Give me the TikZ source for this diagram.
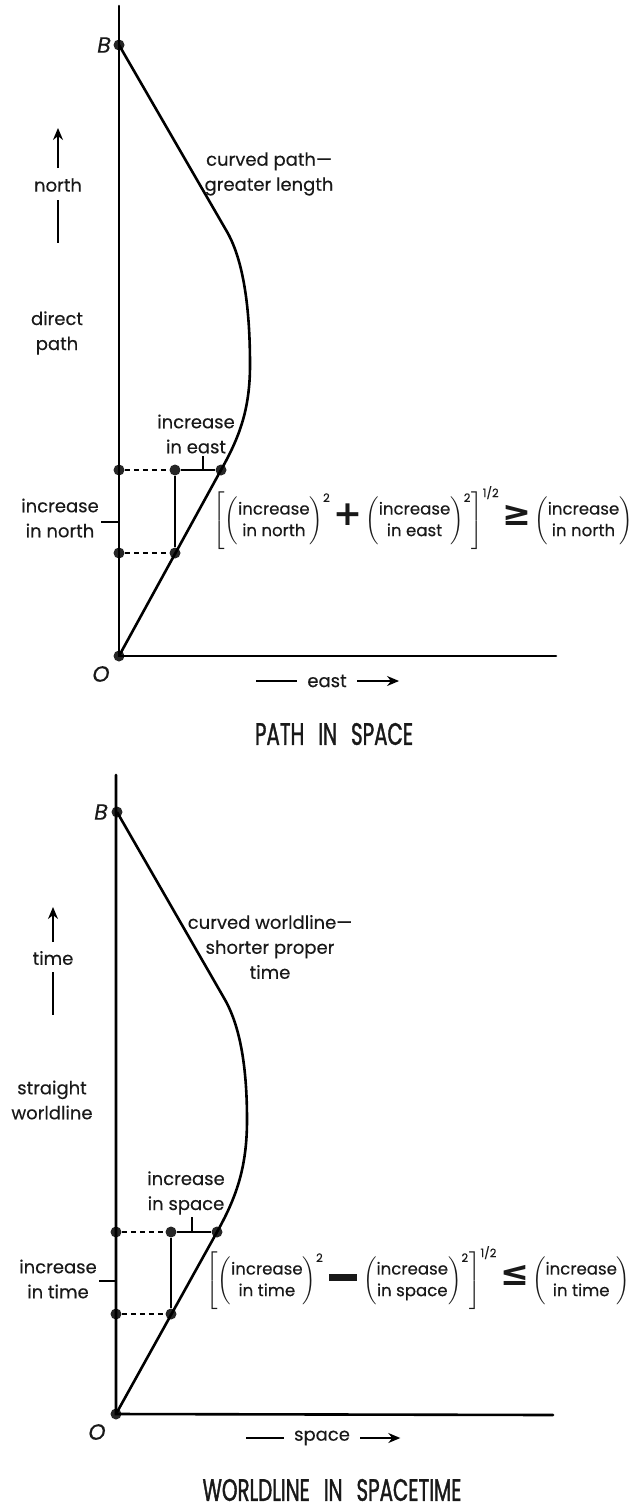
\documentclass[tikz,border=0pt]{standalone}
\usepackage{fontspec}
\usepackage{amsmath}
\setmainfont{Poppins}[FakeBold=0.35]
\newfontfamily\symfont{DejaVu Sans}
\newfontfamily\titlefont[FakeStretch=0.64,FakeBold=1.2]{Poppins}
\usetikzlibrary{arrows.meta,positioning}
\newcommand{\incr}[2]{\begin{tabular}{@{}c@{}}#1\\#2\end{tabular}}
\tikzset{
  axis/.style={line width=1.3pt, line cap=round},
  wline/.style={line width=1.3pt, line join=round},
  guide/.style={line width=0.6pt, dash pattern=on 2.5pt off 2pt},
  thinln/.style={line width=0.55pt},
  dot/.style={circle, fill=black!85, inner sep=0pt, minimum size=5.5pt},
  lbl/.style={align=center, inner sep=1pt, text=black!90, font=\fontsize{9}{12.5}\selectfont},
  ptlbl/.style={inner sep=1pt, text=black!90, font=\fontsize{11}{12}\selectfont\itshape},
  eqn/.style={anchor=west, inner sep=0pt, text=black!90, font=\fontsize{8.3}{10.8}\selectfont},
  ttl/.style={text=black!90, font=\titlefont\fontsize{15.5}{16}\selectfont},
  dirarr/.style={-{Stealth[length=6pt,width=5pt]}, line width=0.8pt},
  dirln/.style={line width=0.8pt},
}

\begin{document}
\begin{tikzpicture}[x=0.5pt,y=-0.5pt]
\useasboundingbox (0,0) rectangle (639,1509);

% path in space
\node[dot] (B1) at (119,45) {};
\node[dot] (O1) at (119,656) {};
\node[dot] (a1) at (119,470) {};
\node[dot] (b1) at (175,470) {};
\node[dot] (c1) at (221,470) {};
\node[dot] (d1) at (119,553) {};
\node[dot] (e1) at (175,553) {};
\coordinate (top1) at (119,6);
\coordinate (end1) at (556,656);
\draw[axis] (top1) -- (O1.center) -- (end1);
\draw[wline] (B1.center) -- (226,230) .. controls (244,260) and (250,310) .. (250,365)
  .. controls (250,410) and (239,438) .. (c1.center) -- (O1.center);
\draw[guide] (a1) -- (b1);
\draw[guide] (d1) -- (e1);
\draw[thinln] (b1) -- (c1);
\draw[thinln] (b1) -- (e1);

\node[ptlbl] (B1l) at (104,45) {B};
\node[ptlbl] (O1l) at (101,674) {O};
\node[lbl] (north) at (58,185) {north};
\draw[dirarr] ([yshift=8.5pt]north.center) -- ++(0,-40);
\draw[dirln] ([yshift=-7.5pt]north.center) -- ++(0,43);
\node[lbl] (direct) at (57,333) {direct\\path};
\node[lbl] (curved1) at (269,174) {curved path---\\greater length};
\node[lbl] (incE) at (196,434) {increase\\in east};
\coordinate (tk1) at (203,470);
\draw[thinln] (tk1) -- (tk1 |- incE.south);
\node[lbl] (incN) at (60,518) {increase\\in north};
\draw[thinln] ([yshift=-2pt]incN.east) -- ([yshift=-2pt]incN.east -| a1);
\node[lbl] (east) at (327,681) {east};
\draw[dirln] ([xshift=-4pt]east.west) -- ++(-41,0);
\draw[dirarr] ([xshift=4pt]east.east) -- ++(42,0);
\node[ttl] (title1) at (334,734) {PATH\hspace{0.45em}IN\hspace{0.45em}SPACE};

\node[eqn] (eq1) at (213,518) {$\left[\left(\incr{increase}{in north}\right)^{\text{2}}
  \text{\symfont\bfseries\LARGE +}
  \left(\incr{increase}{in east}\right)^{\text{2}}\right]^{\text{1/2}}
  \text{\symfont\bfseries\LARGE ≥}
  \left(\incr{increase}{in north}\right)$};

% worldline in spacetime
\node[dot] (B2) at (117,812) {};
\node[dot] (O2) at (116,1414) {};
\node[dot] (a2) at (116,1232) {};
\node[dot] (b2) at (171,1232) {};
\node[dot] (c2) at (217,1232) {};
\node[dot] (d2) at (116,1314) {};
\node[dot] (e2) at (171,1314) {};
\coordinate (top2) at (116,775);
\coordinate (end2) at (553,1415);
\draw[axis] (top2) -- (O2.center) -- (end2);
\draw[wline] (B2.center) -- (224,998) .. controls (241,1027) and (247,1070) .. (247,1120)
  .. controls (247,1168) and (236,1198) .. (c2.center) -- (O2.center);
\draw[guide] (a2) -- (b2);
\draw[guide] (d2) -- (e2);
\draw[thinln] (b2) -- (c2);
\draw[thinln] (b2) -- (e2);

\node[ptlbl] (B2l) at (101,812) {B};
\node[ptlbl] (O2l) at (97,1432) {O};
\node[lbl] (time) at (53,958) {time};
\draw[dirarr] ([yshift=8pt]time.center) -- ++(0,-35);
\draw[dirln] ([yshift=-7pt]time.center) -- ++(0,43);
\node[lbl] (straight) at (52,1100) {straight\\worldline};
\node[lbl] (curved2) at (270,947) {curved worldline---\\shorter proper\\time};
\node[lbl] (incS) at (186,1193) {increase\\in space};
\coordinate (tk2) at (192,1232);
\draw[thinln] (tk2) -- (tk2 |- incS.south);
\node[lbl] (incT) at (58,1279) {increase\\in time};
\draw[thinln] ([yshift=-1pt]incT.east) -- ([yshift=-1pt]incT.east -| a2);
\node[lbl] (space) at (322,1438) {space};
\draw[dirln] ([xshift=-4pt]space.west) -- ++(-38,0);
\draw[dirarr] ([xshift=4pt]space.east) -- ++(40,0);
\node[ttl] (title2) at (332,1490) {WORLDLINE\hspace{0.45em}IN\hspace{0.45em}SPACETIME};

\node[eqn] (eq2) at (206,1278) {$\left[\left(\incr{increase}{in time}\right)^{\text{2}}
  \,\rule[2.2pt]{14pt}{3.5pt}\,
  \left(\incr{increase}{in space}\right)^{\text{2}}\right]^{\text{1/2}}
  \text{\symfont\bfseries\LARGE ≤}
  \left(\incr{increase}{in time}\right)$};
\end{tikzpicture}
\end{document}
